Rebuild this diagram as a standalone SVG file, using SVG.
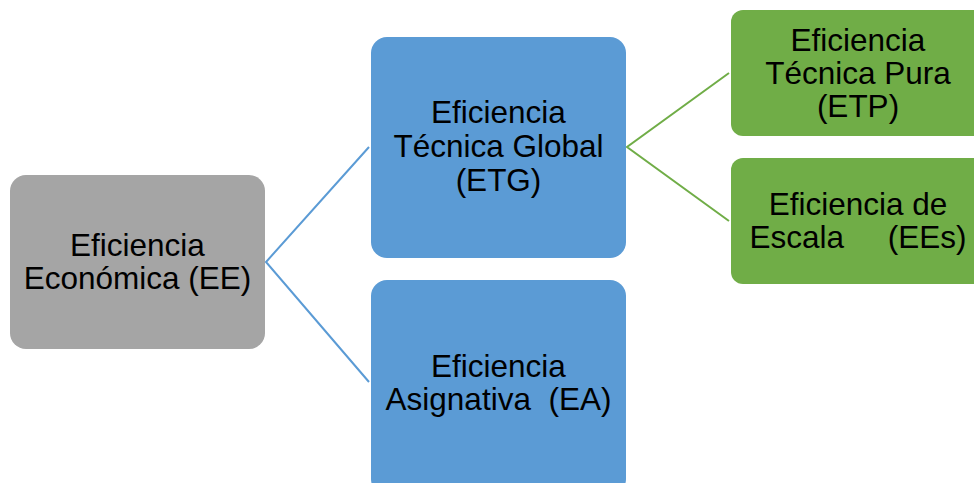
<svg xmlns="http://www.w3.org/2000/svg" width="974" height="483" viewBox="0 0 974 483">
<style>
text{font-family:"Liberation Sans",Arial,sans-serif;font-size:31.5px;fill:#000;text-anchor:middle;white-space:pre}
.gray{fill:#A5A5A5}
.blue{fill:#5B9BD5}
.green{fill:#70AD47}
.lb{stroke:#5B9BD5;stroke-width:2;fill:none}
.lg{stroke:#70AD47;stroke-width:2;fill:none}
</style>
<rect width="974" height="483" fill="#fff"/>
<g id="connectors">
<polyline class="lb" points="369,147 266,262 369,382"/>
<polyline class="lg" points="729,73 627,147 729,221"/>
</g>
<g id="EE">
<rect class="gray" x="10" y="175" width="255" height="174" rx="16"/>
<text x="137.5" y="256">Eficiencia</text>
<text x="137.5" y="289">Económica (EE)</text>
</g>
<g id="ETG">
<rect class="blue" x="371" y="37" width="255" height="221" rx="16"/>
<text x="498.5" y="123">Eficiencia</text>
<text x="498.5" y="157">Técnica Global</text>
<text x="498.5" y="191">(ETG)</text>
</g>
<g id="EA">
<rect class="blue" x="371" y="280" width="255" height="215" rx="16"/>
<text x="498.5" y="377">Eficiencia</text>
<text x="498.5" y="410">Asignativa  (EA)</text>
</g>
<g id="ETP">
<rect class="green" x="731" y="10" width="260" height="126" rx="12"/>
<text x="858" y="51">Eficiencia</text>
<text x="858" y="84">Técnica Pura</text>
<text x="858" y="117">(ETP)</text>
</g>
<g id="EEs">
<rect class="green" x="731" y="158" width="260" height="126" rx="12"/>
<text x="858" y="215">Eficiencia de</text>
<text x="858" y="248">Escala     (EEs)</text>
</g>
</svg>
